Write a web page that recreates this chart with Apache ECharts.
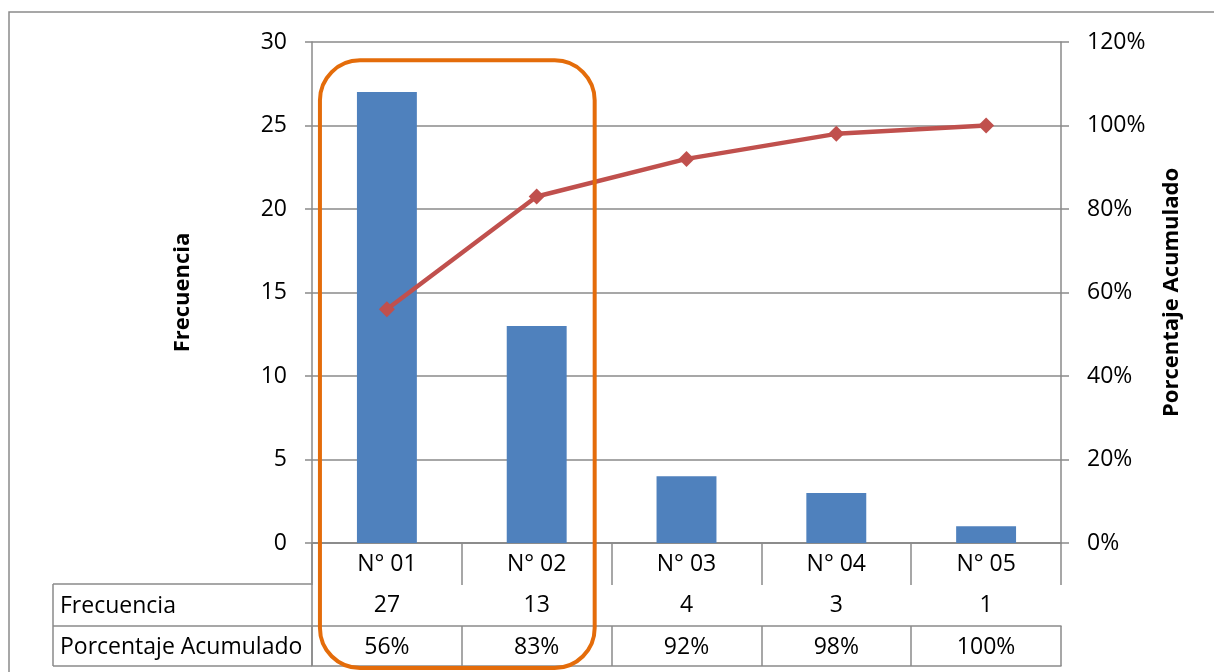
<!DOCTYPE html>
<html>
<head>
<meta charset="utf-8">
<script src="https://cdn.jsdelivr.net/npm/echarts@6/dist/echarts.min.js"></script>
<style>
  html, body { margin: 0; padding: 0; background: #ffffff; }
  #chart { width: 1214px; height: 672px; }
</style>
</head>
<body>
<div id="chart"></div>
<script>
// Pareto data
const categories = ['N° 01', 'N° 02', 'N° 03', 'N° 04', 'N° 05'];
const frecuencia = [27, 13, 4, 3, 1];
const porcentajeAcumulado = [56, 83, 92, 98, 100];
const rowLabels = ['Frecuencia', 'Porcentaje Acumulado'];
const leftTitle = 'Frecuencia';
const rightTitle = 'Porcentaje Acumulado';

// Layout
const W = 1214, H = 672;
const GRID = { left: 312, right: 153, top: 42, bottom: 129 };
const ROW = [41, 42, 40];          // heights of the three table rows
const TABLE_LEFT = 53;
const FONT = 'Open Sans';
const FONT_SIZE = 23;
const GRAY = '#8a8a8a';
const axisBottom = H - GRID.bottom;

const chart = echarts.init(document.getElementById('chart'), null, { renderer: 'canvas' });

const cellLabel = (margin) => ({
  show: true, interval: 0, margin: margin,
  fontFamily: FONT, fontSize: FONT_SIZE, color: '#000', lineHeight: FONT_SIZE
});

function tableAxis(data, offset, tickLen, showLabel) {
  return {
    type: 'category', data: data, position: 'bottom', offset: offset,
    boundaryGap: true,
    axisLine: { show: true, lineStyle: { color: GRAY, width: 1.5 } },
    axisTick: { show: tickLen > 0, interval: 0, length: tickLen, lineStyle: { color: GRAY, width: 1.5 } },
    axisLabel: showLabel ? cellLabel(10) : { show: false },
    splitLine: { show: false }
  };
}

const titleStyle = { fontFamily: FONT, fontSize: 22, fontWeight: 'bold', color: '#000' };

const option = {
  backgroundColor: '#ffffff',
  animation: false,
  grid: { left: GRID.left, right: GRID.right, top: GRID.top, bottom: GRID.bottom, containLabel: false },
  xAxis: [
    tableAxis(categories, 0, ROW[0], true),
    tableAxis(frecuencia.map(String), ROW[0], ROW[1], true),
    tableAxis(porcentajeAcumulado.map(v => v + '%'), ROW[0] + ROW[1], ROW[2], true),
    tableAxis(categories, ROW[0] + ROW[1] + ROW[2], 0, false)
  ],
  yAxis: [
    {
      type: 'value', min: 0, max: 30, interval: 5, position: 'left',
      name: leftTitle, nameLocation: 'middle', nameRotate: 90, nameGap: 118,
      nameTextStyle: titleStyle,
      axisLine: { show: true, lineStyle: { color: GRAY, width: 1.5 } },
      axisTick: { show: true, length: 7, lineStyle: { color: GRAY, width: 1.5 } },
      axisLabel: { margin: 25, fontFamily: FONT, fontSize: FONT_SIZE, color: '#000' },
      splitLine: { show: true, lineStyle: { color: GRAY, width: 1.5 } }
    },
    {
      type: 'value', min: 0, max: 120, interval: 20, position: 'right',
      name: rightTitle, nameLocation: 'middle', nameRotate: 90, nameGap: 100,
      nameTextStyle: titleStyle,
      axisLine: { show: true, lineStyle: { color: GRAY, width: 1.5 } },
      axisTick: { show: true, length: 8, lineStyle: { color: GRAY, width: 1.5 } },
      axisLabel: { margin: 26, fontFamily: FONT, fontSize: FONT_SIZE, color: '#000', formatter: '{value}%' },
      splitLine: { show: false }
    }
  ],
  series: [
    {
      name: leftTitle, type: 'bar', xAxisIndex: 0, yAxisIndex: 0,
      data: frecuencia, barWidth: '40%',
      itemStyle: { color: '#4F81BD' }
    },
    {
      name: rightTitle, type: 'line', xAxisIndex: 0, yAxisIndex: 1,
      data: porcentajeAcumulado,
      symbol: 'diamond', symbolSize: 16,
      lineStyle: { color: '#C0504D', width: 4.5 },
      itemStyle: { color: '#C0504D' },
      z: 5
    }
  ]
};

chart.setOption(option);

// Table row headers, frame and highlight box
const rowTop1 = axisBottom + ROW[0];
const rowTop2 = rowTop1 + ROW[1];
const rowTop3 = rowTop2 + ROW[2];
const lineStyle = { stroke: GRAY, lineWidth: 1.5 };

const c0 = chart.convertToPixel({ xAxisIndex: 0 }, categories[0]);
const c1 = chart.convertToPixel({ xAxisIndex: 0 }, categories[1]);
const step = c1 - c0;
const boxTop = chart.convertToPixel({ yAxisIndex: 0 }, 28.9);

chart.setOption({
  graphic: [
    { type: 'rect', shape: { x: 9, y: 12, width: W + 20, height: H + 20 },
      style: { fill: null, stroke: GRAY, lineWidth: 1.5 }, silent: true },
    { type: 'line', shape: { x1: TABLE_LEFT, y1: rowTop1, x2: GRID.left, y2: rowTop1 }, style: lineStyle },
    { type: 'line', shape: { x1: TABLE_LEFT, y1: rowTop2, x2: GRID.left, y2: rowTop2 }, style: lineStyle },
    { type: 'line', shape: { x1: TABLE_LEFT, y1: rowTop3, x2: GRID.left, y2: rowTop3 }, style: lineStyle },
    { type: 'line', shape: { x1: TABLE_LEFT, y1: rowTop1, x2: TABLE_LEFT, y2: rowTop3 }, style: lineStyle },
    { type: 'line', shape: { x1: GRID.left, y1: axisBottom, x2: GRID.left, y2: rowTop3 }, style: lineStyle },
    { type: 'text', x: TABLE_LEFT + 7, y: (rowTop1 + rowTop2) / 2 + 1,
      style: { text: rowLabels[0], fontFamily: FONT, fontSize: FONT_SIZE, fill: '#000', verticalAlign: 'middle' } },
    { type: 'text', x: TABLE_LEFT + 7, y: (rowTop2 + rowTop3) / 2 + 1,
      style: { text: rowLabels[1], fontFamily: FONT, fontSize: FONT_SIZE, fill: '#000', verticalAlign: 'middle' } },
    { type: 'rect', z: 100,
      shape: { x: c0 - step * 0.447, y: boxTop, width: step + step * 0.387 + step * 0.447, height: rowTop3 + 2 - boxTop, r: 40 },
      style: { fill: null, stroke: '#E46C0A', lineWidth: 4 } }
  ]
});
</script>
</body>
</html>
